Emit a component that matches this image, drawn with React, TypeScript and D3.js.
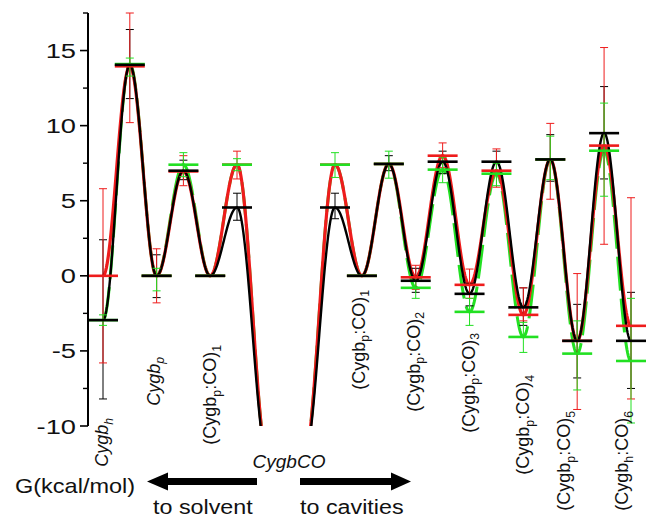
import React from "react";
import * as d3 from "d3";

// ---- data (kcal/mol) ----
// left branch (towards solvent): Cygb_h, TS, Cygb_p, TS, (Cygb_p:CO)_1, TS
const blackLeft = [-2.95, 14.05, 0, 7.0, 0, 4.55];
const redLeft = [0, 13.95, 0, 6.95, 0, 7.4];
const greenLeft = [-2.95, 14.1, 0, 7.4, 0, 7.4];
// right branch (towards cavities): TS, (CO)1, TS, (CO)2, TS, (CO)3, TS, (CO)4, TS, (CO)5, TS, (CO)6
const blackRight = [4.55, 0, 7.45, -0.33, 7.6, -1.2, 7.6, -2.1, 7.75, -4.33, 9.5, -4.33];
const redRight = [7.4, 0, 7.45, -0.1, 8.0, -0.6, 7.0, -2.6, 7.75, -4.33, 8.67, -3.33];
const greenRight = [7.4, 0, 7.45, -0.8, 7.07, -2.4, 6.8, -4.07, 7.75, -5.18, 8.33, -5.67];
const cygbCOLevel = -12.4;

type Bar = [number, number] | null;
const blackErrLeft: Bar[] = [[-8.2, 2.4], [11.8, 16.4], [-1.45, 1.4], [6.4, 7.7], null, [3.7, 5.5]];
const redErrLeft: Bar[] = [[-5.8, 5.8], [10.2, 17.5], [-1.8, 1.8], [6.0, 8.0], null, [6.45, 8.3]];
const greenErrLeft: Bar[] = [[-3.3, -2.6], [13.3, 14.5], [-1.0, 0.5], [6.6, 8.2], null, [7.0, 7.8]];
const blackErrRight: Bar[] = [[3.8, 5.5], null, [7.0, 8.0], [-1.1, 0.5], [6.8, 8.3], [-2.0, -0.5], [7.0, 8.3], [-3.3, -0.8], [6.3, 9.4], [-6.8, -1.9], [6.45, 12.6], [-7.5, -1.1]];
const redErrRight: Bar[] = [null, null, null, [-0.9, 0.7], [7.2, 8.85], [-1.5, 0.45], [5.9, 8.45], [-3.0, -0.8], [5.1, 10.15], [-8.9, 0.15], [2.1, 15.2], [-8.2, 5.2]];
const greenErrRight: Bar[] = [[6.55, 8.2], null, [6.5, 8.3], [-1.5, -0.1], [6.2, 7.9], [-3.3, -1.5], [6.0, 7.5], [-5.1, -3.1], [6.4, 9.3], [-7.6, -3.0], [5.3, 11.5], [-9.8, -1.5]];

// state labels: [prefix, sub, suffix, sub2]
const leftLabels: [string, string, string, string][] = [
  ["Cygb", "h", "", ""],
  ["Cygb", "p", "", ""],
  ["(Cygb", "p", ":CO)", "1"],
];
const rightLabels: [string, string, string, string][] = [
  ["(Cygb", "p", ":CO)", "1"],
  ["(Cygb", "p", ":CO)", "2"],
  ["(Cygb", "p", ":CO)", "3"],
  ["(Cygb", "p", ":CO)", "4"],
  ["(Cygb", "p", ":CO)", "5"],
  ["(Cygb", "h", ":CO)", "6"],
];
const yTicksMajor = [-10, -5, 0, 5, 10, 15];
const yTicksMinor = [-7.5, -2.5, 2.5, 7.5, 12.5, 17.5];

// ---- layout ----
const W = 649, H = 518;
const FONT = "'Liberation Sans', Arial, Helvetica, sans-serif";
const y = d3.scaleLinear().domain([-10, 17.5]).range([426, 13]);
const xL = d3.scaleLinear().domain([0, 5]).range([103, 237]);
const xR = d3.scaleLinear().domain([0, 11]).range([335, 631]);
const endOffset = 1.17; // state units from last barrier to CygbCO well
const axisX = 88;
const leftLabelLayout = [
  { idx: 0, dx: 5, top: 418, italic: true },
  { idx: 2, dx: 3, top: 357, italic: true },
  { idx: 4, dx: 6, top: 345, italic: false },
];
const rightLabelLayout = [
  { idx: 1, dx: 3, top: 290 },
  { idx: 3, dx: 4, top: 312 },
  { idx: 5, dx: 5, top: 333 },
  { idx: 7, dx: 6, top: 375 },
  { idx: 9, dx: -7, top: 411 },
  { idx: 11, dx: -3, top: 411 },
];

const COLORS = { black: "#000000", red: "#ee1c1c", green: "#22e022" };

function cosPath(xs: number[], vs: number[]): string {
  const pts: [number, number][] = [];
  for (let k = 0; k < xs.length - 1; k++) {
    const n = 40;
    for (let s = 0; s <= n; s++) {
      if (k > 0 && s === 0) continue;
      const t = s / n;
      const xv = xs[k] + (xs[k + 1] - xs[k]) * t;
      const v = vs[k] + (vs[k + 1] - vs[k]) * (1 - Math.cos(Math.PI * t)) / 2;
      pts.push([xv, y(v)]);
    }
  }
  return d3.line()(pts) || "";
}

function Label({ parts, size }: { parts: [string, string, string, string]; size: number }) {
  const [a, s1, b, s2] = parts;
  const sub = size * 0.68;
  return (
    <>
      <tspan>{a}</tspan>
      <tspan fontSize={sub} dy={size * 0.25}>{s1}</tspan>
      {b && <tspan fontSize={size} dy={-size * 0.25}>{b}</tspan>}
      {s2 && <tspan fontSize={sub} dy={size * 0.25}>{s2}</tspan>}
    </>
  );
}

export default function App() {
  const leftXs = blackLeft.map((_, i) => xL(i)).concat([xL(5 + endOffset)]);
  const rightXs = [xR(-endOffset)].concat(blackRight.map((_, i) => xR(i)));

  const series = [
    { color: COLORS.green, left: greenLeft, right: greenRight, errL: greenErrLeft, errR: greenErrRight, w: 3.0, dash: "34 8" },
    { color: COLORS.red, left: redLeft, right: redRight, errL: redErrLeft, errR: redErrRight, w: 3.2, dash: "" },
    { color: COLORS.black, left: blackLeft, right: blackRight, errL: blackErrLeft, errR: blackErrRight, w: 2.4, dash: "" },
  ];
  const levelOrder = [series[1], series[0], series[2]];
  const errOrder = [series[2], series[1], series[0]];

  return (
    <svg width={W} height={H} style={{ position: "absolute", left: 0, top: 0, background: "#fff" }} fontFamily={FONT}>
      <defs>
        <clipPath id="plotclip">
          <rect x={axisX + 1} y={0} width={W} height={y(-10)} />
        </clipPath>
      </defs>
      {/* curves */}
      <g clipPath="url(#plotclip)" fill="none">
        {series.map((s, i) => (
          <g key={i}>
            <path d={cosPath(leftXs, s.left.concat([cygbCOLevel]))} stroke={s.color} strokeWidth={s.w} strokeDasharray={s.dash || undefined} />
            <path d={cosPath(rightXs, [cygbCOLevel].concat(s.right))} stroke={s.color} strokeWidth={s.w} strokeDasharray={s.dash || undefined} />
          </g>
        ))}
      </g>
      {/* error bars */}
      <g>
        {errOrder.map((s, si) => (
          <g key={si} stroke={s.color} strokeWidth={1}>
            {[...s.errL.map((b, i) => ({ b, x: xL(i) })), ...s.errR.map((b, i) => ({ b, x: xR(i) }))].map((e, i) =>
              e.b ? (
                <g key={i}>
                  <line x1={e.x} x2={e.x} y1={y(e.b[0])} y2={y(e.b[1])} />
                  <line x1={e.x - 4} x2={e.x + 4} y1={y(e.b[0])} y2={y(e.b[0])} />
                  <line x1={e.x - 4} x2={e.x + 4} y1={y(e.b[1])} y2={y(e.b[1])} />
                </g>
              ) : null
            )}
          </g>
        ))}
      </g>
      {/* level lines */}
      <g>
        {levelOrder.map((s, si) => (
          <g key={si} stroke={s.color} strokeWidth={2.6}>
            {s.left.map((v, i) => (
              <line key={"l" + i} x1={xL(i) - 15} x2={xL(i) + 15} y1={y(v)} y2={y(v)} />
            ))}
            {s.right.map((v, i) => (
              <line key={"r" + i} x1={xR(i) - 15} x2={xR(i) + 15} y1={y(v)} y2={y(v)} />
            ))}
          </g>
        ))}
      </g>
      {/* axis */}
      <g stroke="#000">
        <line x1={axisX} x2={axisX} y1={y(-10)} y2={y(17.5)} strokeWidth={2} />
        {yTicksMajor.map((t) => (
          <line key={t} x1={axisX - 8} x2={axisX} y1={y(t)} y2={y(t)} strokeWidth={1.6} />
        ))}
        {yTicksMinor.map((t) => (
          <line key={t} x1={axisX - 5} x2={axisX} y1={y(t)} y2={y(t)} strokeWidth={1.4} />
        ))}
      </g>
      {yTicksMajor.map((t) => (
        <text key={t} transform={`translate(76,${y(t) + 7.5}) scale(1.3,1)`} textAnchor="end" fontSize={21} fill="#111">
          {t}
        </text>
      ))}
      {/* state labels */}
      {leftLabelLayout.map((l, i) => (
        <text key={"ll" + i} transform={`translate(${xL(l.idx) + l.dx},${l.top}) rotate(-90)`} textAnchor="end" fontSize={18} fontStyle={l.italic ? "italic" : "normal"} fill="#111">
          <Label parts={leftLabels[i]} size={18} />
        </text>
      ))}
      {rightLabelLayout.map((l, i) => (
        <text key={"rl" + i} transform={`translate(${xR(l.idx) + l.dx},${l.top}) rotate(-90)`} textAnchor="end" fontSize={18} fill="#111">
          <Label parts={rightLabels[i]} size={18} />
        </text>
      ))}
      {/* bottom annotation */}
      <text x={289} y={468} textAnchor="middle" fontSize={19} fontStyle="italic" fill="#111">CygbCO</text>
      <text transform="translate(15,493) scale(1.12,1)" fontSize={21} fill="#111">G(kcal/mol)</text>
      <text transform="translate(153,514) scale(1.11,1)" fontSize={21} fill="#111">to solvent</text>
      <text transform="translate(300,514) scale(1.11,1)" fontSize={21} fill="#111">to cavities</text>
      <g fill="#000">
        <rect x={166} y={478} width={91} height={7} />
        <polygon points="147,481.5 168,472.5 168,490.5" />
        <rect x={300} y={478} width={93} height={7} />
        <polygon points="411,481.5 391,472.5 391,490.5" />
      </g>
    </svg>
  );
}
